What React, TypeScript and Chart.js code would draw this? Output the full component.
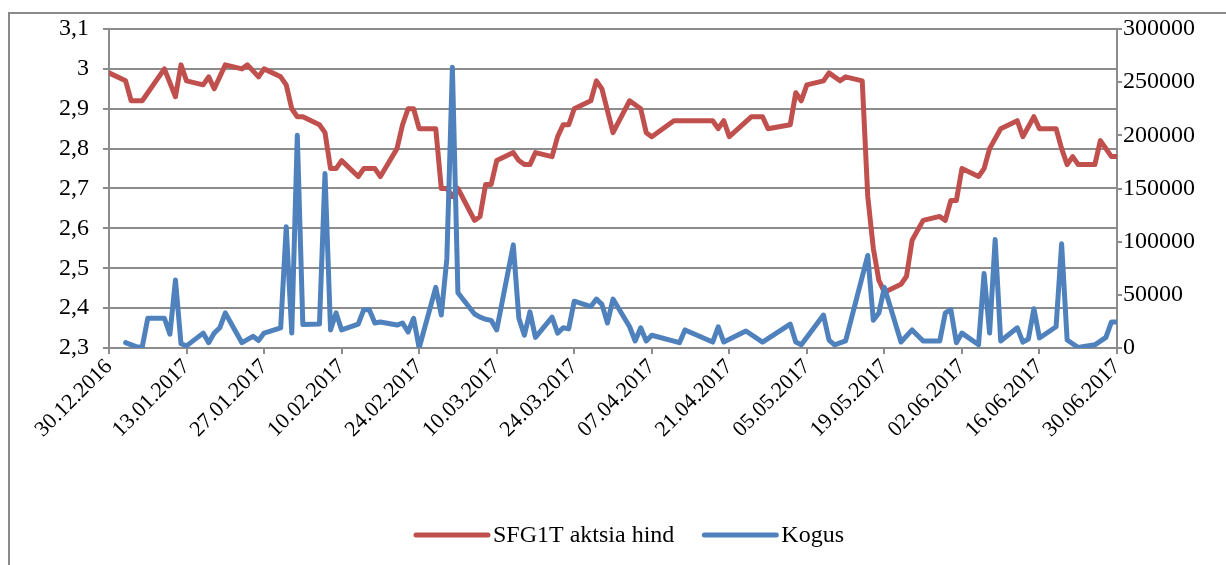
import React, { useEffect, useRef } from "react";
import { Chart, registerables } from "chart.js";

Chart.register(...registerables);

// ---------- DATA ----------
const priceDates = [
  "2016-12-30", "2017-01-02", "2017-01-03", "2017-01-05", "2017-01-09", "2017-01-11", "2017-01-12", "2017-01-13",
  "2017-01-16", "2017-01-17", "2017-01-18", "2017-01-20", "2017-01-23", "2017-01-24", "2017-01-26", "2017-01-27",
  "2017-01-30", "2017-01-31", "2017-02-01", "2017-02-02", "2017-02-03", "2017-02-06", "2017-02-07", "2017-02-08",
  "2017-02-09", "2017-02-10", "2017-02-13", "2017-02-14", "2017-02-16", "2017-02-17", "2017-02-20", "2017-02-21",
  "2017-02-22", "2017-02-23", "2017-02-24", "2017-02-27", "2017-02-28", "2017-03-01", "2017-03-02", "2017-03-03",
  "2017-03-06", "2017-03-07", "2017-03-08", "2017-03-09", "2017-03-10", "2017-03-13", "2017-03-14", "2017-03-15",
  "2017-03-16", "2017-03-17", "2017-03-20", "2017-03-21", "2017-03-22", "2017-03-23", "2017-03-24", "2017-03-27",
  "2017-03-28", "2017-03-29", "2017-03-31", "2017-04-03", "2017-04-05", "2017-04-06", "2017-04-07", "2017-04-11",
  "2017-04-18", "2017-04-19", "2017-04-20", "2017-04-21", "2017-04-25", "2017-04-27", "2017-04-28", "2017-05-02",
  "2017-05-03", "2017-05-04", "2017-05-05", "2017-05-08", "2017-05-09", "2017-05-11", "2017-05-12", "2017-05-15",
  "2017-05-16", "2017-05-17", "2017-05-18", "2017-05-19", "2017-05-22", "2017-05-23", "2017-05-24", "2017-05-26",
  "2017-05-29", "2017-05-30", "2017-05-31", "2017-06-01", "2017-06-02", "2017-06-05", "2017-06-06", "2017-06-07",
  "2017-06-09", "2017-06-12", "2017-06-13", "2017-06-15", "2017-06-16", "2017-06-19", "2017-06-20", "2017-06-21",
  "2017-06-22", "2017-06-23", "2017-06-26", "2017-06-27", "2017-06-29", "2017-06-30",
];
const priceValues = [
  2.99, 2.97, 2.92, 2.92, 3.0, 2.93, 3.01, 2.97,
  2.96, 2.98, 2.95, 3.01, 3.0, 3.01, 2.98, 3.0,
  2.98, 2.96, 2.9, 2.88, 2.88, 2.86, 2.84, 2.75,
  2.75, 2.77, 2.73, 2.75, 2.75, 2.73, 2.8, 2.86,
  2.9, 2.9, 2.85, 2.85, 2.7, 2.7, 2.68, 2.7,
  2.62, 2.63, 2.71, 2.71, 2.77, 2.79, 2.77, 2.76,
  2.76, 2.79, 2.78, 2.83, 2.86, 2.86, 2.9, 2.92,
  2.97, 2.95, 2.84, 2.92, 2.9, 2.84, 2.83, 2.87,
  2.87, 2.85, 2.87, 2.83, 2.88, 2.88, 2.85, 2.86,
  2.94, 2.92, 2.96, 2.97, 2.99, 2.97, 2.98, 2.97,
  2.68, 2.55, 2.47, 2.44, 2.46, 2.48, 2.57, 2.62,
  2.63, 2.62, 2.67, 2.67, 2.75, 2.73, 2.75, 2.8,
  2.85, 2.87, 2.83, 2.88, 2.85, 2.85, 2.8, 2.76,
  2.78, 2.76, 2.76, 2.82, 2.78, 2.78,
];

const volumeDates = [
  "2017-01-02", "2017-01-04", "2017-01-05", "2017-01-06", "2017-01-09", "2017-01-10", "2017-01-11", "2017-01-12",
  "2017-01-13", "2017-01-16", "2017-01-17", "2017-01-18", "2017-01-19", "2017-01-20", "2017-01-23", "2017-01-25",
  "2017-01-26", "2017-01-27", "2017-01-30", "2017-01-31", "2017-02-01", "2017-02-02", "2017-02-03", "2017-02-06",
  "2017-02-07", "2017-02-08", "2017-02-09", "2017-02-10", "2017-02-13", "2017-02-14", "2017-02-15", "2017-02-16",
  "2017-02-17", "2017-02-20", "2017-02-21", "2017-02-22", "2017-02-23", "2017-02-24", "2017-02-27", "2017-02-28",
  "2017-03-01", "2017-03-02", "2017-03-03", "2017-03-06", "2017-03-07", "2017-03-08", "2017-03-09", "2017-03-10",
  "2017-03-13", "2017-03-14", "2017-03-15", "2017-03-16", "2017-03-17", "2017-03-20", "2017-03-21", "2017-03-22",
  "2017-03-23", "2017-03-24", "2017-03-27", "2017-03-28", "2017-03-29", "2017-03-30", "2017-03-31", "2017-04-03",
  "2017-04-04", "2017-04-05", "2017-04-06", "2017-04-07", "2017-04-12", "2017-04-13", "2017-04-18", "2017-04-19",
  "2017-04-20", "2017-04-24", "2017-04-27", "2017-05-02", "2017-05-03", "2017-05-04", "2017-05-08", "2017-05-09",
  "2017-05-10", "2017-05-12", "2017-05-16", "2017-05-17", "2017-05-18", "2017-05-19", "2017-05-22", "2017-05-24",
  "2017-05-26", "2017-05-29", "2017-05-30", "2017-05-31", "2017-06-01", "2017-06-02", "2017-06-05", "2017-06-06",
  "2017-06-07", "2017-06-08", "2017-06-09", "2017-06-12", "2017-06-13", "2017-06-14", "2017-06-15", "2017-06-16",
  "2017-06-19", "2017-06-20", "2017-06-21", "2017-06-23", "2017-06-26", "2017-06-28", "2017-06-29", "2017-06-30",
];
const volumeValues = [
  5000, 1000, 1000, 28000, 28000, 13000, 64000, 4000,
  2000, 14000, 5000, 14000, 19000, 33000, 5000, 11000,
  7000, 14000, 19000, 114000, 14000, 200000, 22000, 22500,
  164000, 17000, 33000, 17000, 22500, 36000, 36000, 23500,
  24500, 21600, 23500, 15000, 28000, 0, 57000, 31000,
  84000, 264000, 52000, 32000, 29000, 27000, 26000, 17000,
  97000, 28000, 12000, 34000, 10000, 29000, 14000, 19000,
  18000, 44000, 39000, 46000, 41000, 23500, 46000, 20000,
  6600, 19000, 6600, 12000, 5000, 17000, 5600, 20000,
  5600, 16000, 5600, 22500, 5600, 3000, 31000, 7500,
  3000, 6600, 87000, 26000, 33000, 57000, 5600, 17000,
  6600, 6600, 33000, 36000, 5000, 14000, 3000, 70000,
  14000, 102000, 6600, 19000, 5600, 8500, 37000, 9400,
  20000, 98000, 7500, 500, 3000, 10000, 24500, 24500,
];

const seriesNames = ["SFG1T aktsia hind", "Kogus"];
const xStart = "2016-12-30";
const xEnd = "2017-06-30";
const xTickStepDays = 14;
const priceTickValues = [2.3, 2.4, 2.5, 2.6, 2.7, 2.8, 2.9, 3.0, 3.1];
const volumeTickValues = [0, 50000, 100000, 150000, 200000, 250000, 300000];

// ---------- HELPERS ----------
const DAY = 86400000;
const parseUTC = (s: string) => {
  const [y, m, d] = s.split("-").map(Number);
  return Date.UTC(y, m - 1, d);
};
const START = parseUTC(xStart);
const toDay = (s: string) => Math.round((parseUTC(s) - START) / DAY);
const END_DAY = toDay(xEnd);
const pad = (n: number) => (n < 10 ? "0" + n : "" + n);
const fmtDay = (n: number) => {
  const dt = new Date(START + n * DAY);
  return pad(dt.getUTCDate()) + "." + pad(dt.getUTCMonth() + 1) + "." + dt.getUTCFullYear();
};
const fmtPrice = (v: number) => String(Number(v.toFixed(1))).replace(".", ",");

const RED = "#C0504D";
const BLUE = "#4F81BD";
const GRID = "#8c8c8c";
const FONT_FAMILY = "'Liberation Serif', 'Times New Roman', serif";
const FONT_SIZE = 24;
const X_FONT_SIZE = 22;

const legendPlugin = {
  id: "customLegend",
  afterDraw(chart: any) {
    const ctx = chart.ctx;
    ctx.save();
    ctx.font = `${FONT_SIZE}px ${FONT_FAMILY}`;
    ctx.textBaseline = "middle";
    ctx.fillStyle = "#000";
    const y = 535;
    const lineLen = 72;
    const gap = 5;
    const between = 30;
    const colors = [RED, BLUE];
    const widths = seriesNames.map((n) => ctx.measureText(n).width);
    const total = widths.reduce((a, w) => a + lineLen + gap + w, 0) + between;
    let x = 630 - total / 2;
    seriesNames.forEach((name, i) => {
      ctx.strokeStyle = colors[i];
      ctx.lineWidth = 5;
      ctx.lineCap = "round";
      ctx.beginPath();
      ctx.moveTo(x, y);
      ctx.lineTo(x + lineLen, y);
      ctx.stroke();
      x += lineLen + gap;
      ctx.fillText(name, x, y + 1);
      x += widths[i] + between;
    });
    ctx.restore();
  },
};

export default function App() {
  const ref = useRef<HTMLCanvasElement | null>(null);

  useEffect(() => {
    if (!ref.current) return;
    const font = { family: FONT_FAMILY, size: FONT_SIZE };
    const xFont = { family: FONT_FAMILY, size: X_FONT_SIZE };
    const xTicks: number[] = [];
    for (let d = 0; d <= END_DAY; d += xTickStepDays) xTicks.push(d);

    const chart = new Chart(ref.current, {
      type: "line",
      data: {
        datasets: [
          {
            label: seriesNames[0],
            data: priceDates.map((d, i) => ({ x: toDay(d), y: priceValues[i] })),
            borderColor: RED,
            backgroundColor: RED,
            borderWidth: 5,
            yAxisID: "y",
            order: 2,
          },
          {
            label: seriesNames[1],
            data: volumeDates.map((d, i) => ({ x: toDay(d), y: volumeValues[i] })),
            borderColor: BLUE,
            backgroundColor: BLUE,
            borderWidth: 5,
            yAxisID: "y1",
            order: 1,
          },
        ],
      },
      options: {
        animation: false,
        responsive: false,
        maintainAspectRatio: false,
        devicePixelRatio: 1,
        layout: { padding: { left: 9, right: 9, top: 29, bottom: 0 } },
        plugins: { legend: { display: false }, tooltip: { enabled: false } },
        elements: {
          point: { radius: 0, hoverRadius: 0 },
          line: { tension: 0, borderJoinStyle: "round", borderCapStyle: "round" },
        },
        scales: {
          x: {
            type: "linear",
            min: 0,
            max: END_DAY,
            afterBuildTicks: (s: any) => {
              s.ticks = xTicks.map((v) => ({ value: v }));
            },
            afterFit: (s: any) => {
              s.height = 217;
            },
            ticks: {
              autoSkip: false,
              minRotation: 45,
              maxRotation: 45,
              font: xFont,
              color: "#000",
              padding: 0,
              callback: (v: any) => fmtDay(Number(v)),
            },
            grid: { drawOnChartArea: false, drawTicks: true, tickLength: 6, color: GRID, lineWidth: 2 },
            border: { color: GRID, width: 2 },
          },
          y: {
            position: "left",
            min: 2.3,
            max: 3.1,
            afterBuildTicks: (s: any) => {
              s.ticks = priceTickValues.map((v) => ({ value: v }));
            },
            afterFit: (s: any) => {
              s.width = 100;
            },
            ticks: { font, color: "#000", padding: 14, callback: (v: any) => fmtPrice(Number(v)) },
            grid: { color: GRID, lineWidth: 2, tickLength: 6 },
            border: { color: GRID, width: 2 },
          },
          y1: {
            position: "right",
            min: 0,
            max: 300000,
            afterBuildTicks: (s: any) => {
              s.ticks = volumeTickValues.map((v) => ({ value: v }));
            },
            afterFit: (s: any) => {
              s.width = 100;
            },
            ticks: { font, color: "#000", padding: 1, callback: (v: any) => String(v) },
            grid: { drawOnChartArea: false, color: GRID, lineWidth: 2, tickLength: 5 },
            border: { color: GRID, width: 2 },
          },
        },
      } as any,
      plugins: [legendPlugin],
    });
    return () => chart.destroy();
  }, []);

  return (
    <div style={{ position: "fixed", left: 0, top: 0, width: 1226, height: 565, background: "#fff", overflow: "hidden" }}>
      <div
        style={{
          position: "absolute",
          left: 8,
          top: 12,
          width: 1400,
          height: 800,
          border: "2px solid #8a8a8a",
          boxSizing: "border-box",
        }}
      />
      <canvas ref={ref} width={1226} height={565} style={{ position: "absolute", left: 0, top: 0, width: 1226, height: 565 }} />
    </div>
  );
}
